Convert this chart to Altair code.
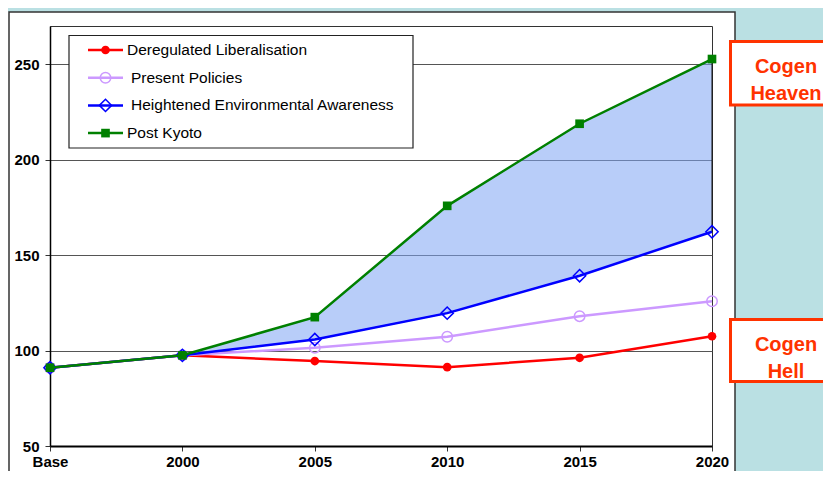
import altair as alt
import pandas as pd

# ---------------- data ----------------
categories = ["Base", "2000", "2005", "2010", "2015", "2020"]
deregulated = [91, 97.5, 94.5, 91.3, 96.2, 107.5]
present_policies = [91, 97.5, 101.5, 107.2, 118, 125.8]
heightened = [91, 97.5, 105.8, 119.6, 139.2, 162.2]
post_kyoto = [91, 97.5, 117.5, 175.8, 218.8, 252.7]
series_names = ["Deregulated Liberalisation", "Present Policies",
                "Heightened Environmental Awareness", "Post Kyoto"]
y_ticks = [50, 100, 150, 200, 250]
callout_top = ["Cogen", "Heaven"]
callout_bottom = ["Cogen", "Hell"]

series_values = [deregulated, present_policies, heightened, post_kyoto]
colors = ["#ff0000", "#cc99ff", "#0000ff", "#008000"]
styles = [
    dict(shape="circle", filled=True, size=75),
    dict(shape="circle", filled=False, size=110),
    dict(shape="diamond", filled=False, size=150),
    dict(shape="square", filled=True, size=75),
]

rows = []
for name, vals in zip(series_names, series_values):
    for c, v in zip(categories, vals):
        rows.append({"cat": c, "series": name, "value": v})
df = pd.DataFrame(rows)
area_df = pd.DataFrame({"cat": categories[1:], "lo": heightened[1:], "hi": post_kyoto[1:]})
one = pd.DataFrame({"k": [0]})

W, H = 662, 420
FONT = "Arial, Liberation Sans, sans-serif"
TEAL = "#bae0e3"
RED = "#ff3300"

x_enc = alt.X("cat:N", sort=categories,
              scale=alt.Scale(type="point", padding=0),
              axis=alt.Axis(title=None, labelAngle=0, labelFont=FONT, labelFontSize=15,
                            labelFontWeight="bold", labelColor="#000", domainColor="#000",
                            domainWidth=2, tickColor="#333", tickSize=5, labelPadding=3,
                            grid=False))
yscale = alt.Scale(domain=[50, 270], nice=False, zero=False)
yaxis = alt.Axis(title=None, values=y_ticks, grid=True, gridColor="#555", gridWidth=1,
                 labelFont=FONT, labelFontSize=15, labelFontWeight="bold", labelColor="#000",
                 domainColor="#000", domainWidth=1.5, tickColor="#333", tickSize=5,
                 labelPadding=6)


def box(x, x2, y, y2, **kw):
    return alt.Chart(one).mark_rect(**kw).encode(
        x=alt.value(x), x2=alt.value(x2), y=alt.value(y), y2=alt.value(y2))


def label(txt, x, y, **kw):
    return alt.Chart(one).mark_text(text=txt, **kw).encode(x=alt.value(x), y=alt.value(y))


layers = []
# surrounding teal page and white panel frame
layers.append(box(-60, 800, -20, -14, fill=TEAL))
layers.append(box(685, 800, -20, 460, fill=TEAL))
layers.append(box(-41, 685, -14, 470, fillOpacity=0, stroke="#333", strokeWidth=1.5))

# shaded band between Heightened and Post Kyoto
layers.append(alt.Chart(area_df).mark_area(color="#7ea4f4", fillOpacity=0.55,
                                           stroke="#111", strokeWidth=1).encode(
    x=x_enc, y=alt.Y("lo:Q", scale=yscale, axis=yaxis), y2="hi:Q"))

# series lines + markers
for name, col, st in zip(series_names, colors, styles):
    base = alt.Chart(df).transform_filter(alt.datum.series == name)
    layers.append(base.mark_line(color=col, strokeWidth=2.5).encode(
        x=x_enc, y=alt.Y("value:Q", scale=yscale, axis=yaxis)))
    layers.append(base.mark_point(color=col, opacity=1, strokeWidth=1.5, **st).encode(
        x=x_enc, y=alt.Y("value:Q", scale=yscale, axis=yaxis)))

# legend
layers.append(box(19, 363, 9.5, 122, fill="white", stroke="#222", strokeWidth=1.2))
for i, (name, col, st) in enumerate(zip(series_names, colors, styles)):
    ly = 24 + i * 27.7
    tx = 77 if i in (0, 3) else 81
    layers.append(alt.Chart(one).mark_rule(color=col, strokeWidth=2.5).encode(
        x=alt.value(38), x2=alt.value(73), y=alt.value(ly)))
    layers.append(alt.Chart(one).mark_point(color=col, opacity=1, strokeWidth=1.5, **st).encode(
        x=alt.value(55.5), y=alt.value(ly)))
    layers.append(label(name, tx, ly, align="left", baseline="middle", fontSize=15.5,
                        font=FONT, color="#000"))

# callout boxes
layers.append(box(680.5, 800, 15.5, 79, fill="white", stroke=RED, strokeWidth=3))
layers.append(label(callout_top[0], 736, 41, align="center", fontSize=20, fontWeight="bold",
                    font=FONT, color=RED))
layers.append(label(callout_top[1], 736, 68, align="center", fontSize=20, fontWeight="bold",
                    font=FONT, color=RED))
layers.append(box(680.5, 800, 293.5, 355.5, fill="white", stroke=RED, strokeWidth=3))
layers.append(label(callout_bottom[0], 736, 319, align="center", fontSize=20, fontWeight="bold",
                    font=FONT, color=RED))
layers.append(label(callout_bottom[1], 736, 346, align="center", fontSize=20, fontWeight="bold",
                    font=FONT, color=RED))

chart = alt.layer(*layers).properties(
    width=W, height=H,
    autosize="none",
    padding={"left": 42, "top": 18, "right": 111, "bottom": 25},
    background="white",
).configure_view(stroke="#333", strokeWidth=1)

chart.save("out.html", embed_options={"renderer": "svg", "actions": False})
